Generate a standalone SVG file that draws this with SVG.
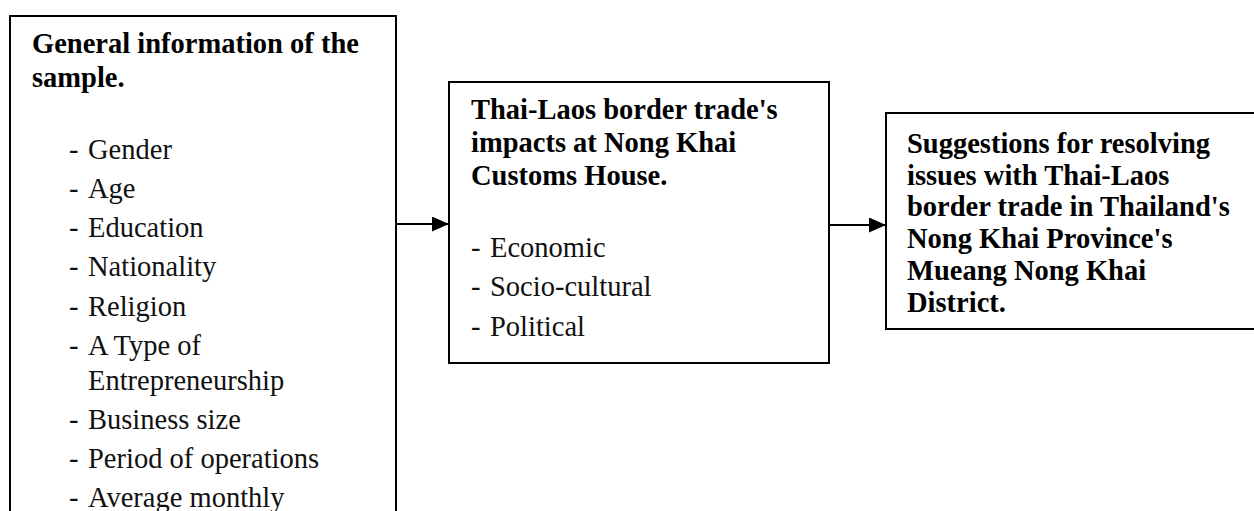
<svg xmlns="http://www.w3.org/2000/svg" width="1254" height="511" viewBox="0 0 1254 511">
<style>
.box{fill:#fff;stroke:#000;stroke-width:2}
.b{font-family:"Liberation Serif","Times New Roman",serif;font-weight:bold;font-size:28.5px;fill:#000}
.r{font-family:"Liberation Serif","Times New Roman",serif;font-size:28.5px;fill:#111}
.conn{stroke:#000;stroke-width:2;fill:none}
</style>
<defs>
<marker id="ah" markerWidth="17" markerHeight="15" refX="17" refY="7.5" orient="auto" markerUnits="userSpaceOnUse">
<polygon points="0,0 17,7.5 0,15" fill="#000"/>
</marker>
</defs>
<rect width="1254" height="511" fill="#fff"/>
<g id="node-general">
<rect class="box" x="10" y="16" width="386" height="520"/>
<text class="b" x="32" y="53">General information of the</text>
<text class="b" x="32" y="87">sample.</text>
<text class="r"><tspan x="69" y="159">-</tspan><tspan x="88" y="159">Gender</tspan></text>
<text class="r"><tspan x="69" y="198">-</tspan><tspan x="88" y="198">Age</tspan></text>
<text class="r"><tspan x="69" y="237">-</tspan><tspan x="88" y="237">Education</tspan></text>
<text class="r"><tspan x="69" y="276">-</tspan><tspan x="88" y="276">Nationality</tspan></text>
<text class="r"><tspan x="69" y="316">-</tspan><tspan x="88" y="316">Religion</tspan></text>
<text class="r"><tspan x="69" y="355">-</tspan><tspan x="88" y="355">A Type of</tspan></text>
<text class="r" x="88" y="390">Entrepreneurship</text>
<text class="r"><tspan x="69" y="429">-</tspan><tspan x="88" y="429">Business size</tspan></text>
<text class="r"><tspan x="69" y="468">-</tspan><tspan x="88" y="468">Period of operations</tspan></text>
<text class="r"><tspan x="69" y="507">-</tspan><tspan x="88" y="507">Average monthly</tspan></text>
</g>
<g id="node-impacts">
<rect class="box" x="449" y="82" width="380" height="281"/>
<text class="b" x="471" y="119">Thai-Laos border trade's</text>
<text class="b" x="471" y="152">impacts at Nong Khai</text>
<text class="b" x="471" y="185">Customs House.</text>
<text class="r"><tspan x="471" y="257">-</tspan><tspan x="490" y="257">Economic</tspan></text>
<text class="r"><tspan x="471" y="296">-</tspan><tspan x="490" y="296">Socio-cultural</tspan></text>
<text class="r"><tspan x="471" y="336">-</tspan><tspan x="490" y="336">Political</tspan></text>
</g>
<g id="node-suggestions">
<rect class="box" x="886" y="113" width="380" height="216"/>
<text class="b" x="907" y="153">Suggestions for resolving</text>
<text class="b" x="907" y="185">issues with Thai-Laos</text>
<text class="b" x="907" y="216">border trade in Thailand's</text>
<text class="b" x="907" y="248">Nong Khai Province's</text>
<text class="b" x="907" y="280">Mueang Nong Khai</text>
<text class="b" x="907" y="312">District.</text>
</g>
<g id="connectors">
<line class="conn" x1="396" y1="224" x2="449" y2="224" marker-end="url(#ah)"/>
<line class="conn" x1="829" y1="225" x2="886" y2="225" marker-end="url(#ah)"/>
</g>
</svg>
